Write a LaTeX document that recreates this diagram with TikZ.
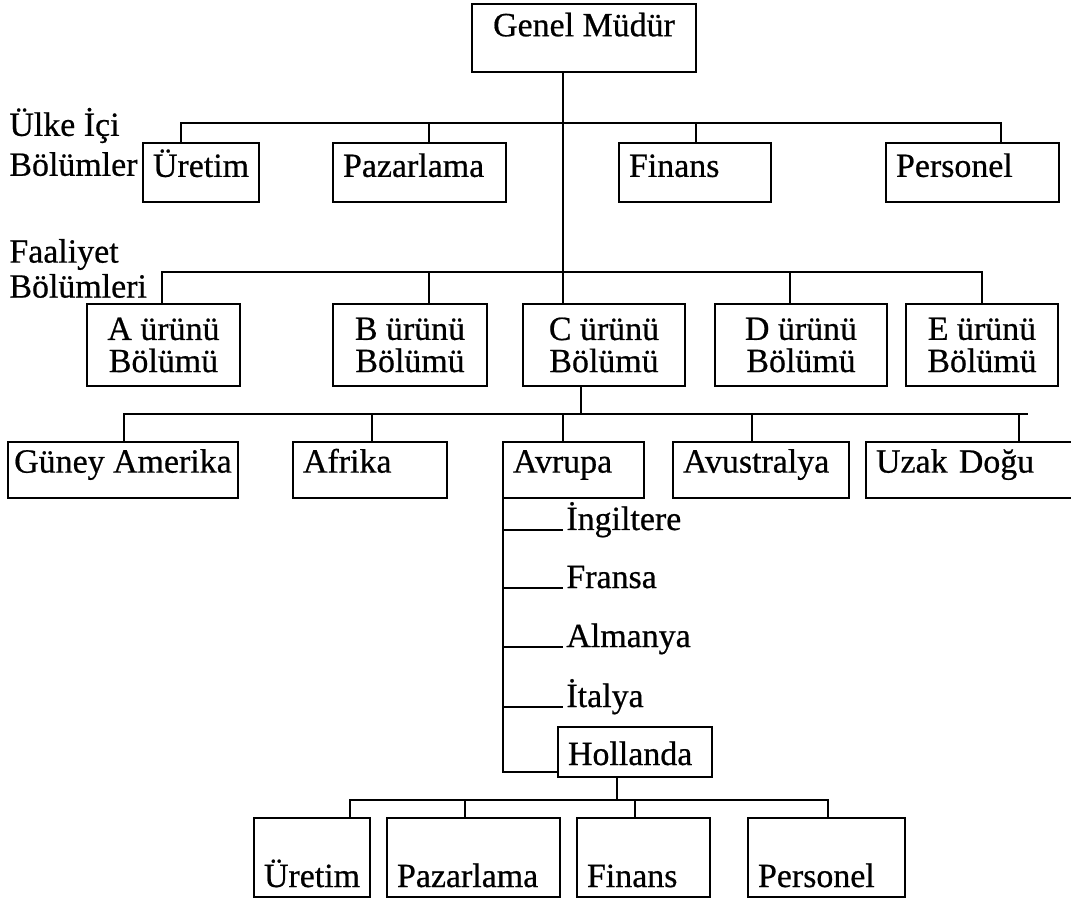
\documentclass[tikz,border=0pt]{standalone}
\usepackage{fontspec}
\setmainfont[FakeBold=0.6]{Liberation Serif}
\usetikzlibrary{calc}
\pgfkeys{tikz/mybox/.style={draw, inner xsep=0.2cm, inner ysep=0.05cm, outer sep=0pt, align=left, text height=14pt, text depth=9pt}}
\pgfkeys{tikz/mytwoline/.style={draw, outer sep=0pt, align=center, font=\fontsize{19.3}{18.3}\selectfont}}
\pgfkeys{tikz/mylabel/.style={anchor=west, align=left, inner sep=0pt}}
\begin{document}
\begin{tikzpicture}[x=0.02cm, y=-0.02cm, line width=1.6pt, font=\fontsize{19.3}{22}\selectfont]
\useasboundingbox (0,0) rectangle (1071,901);
\draw (584,38) node[mybox, minimum width=4.48cm, minimum height=1.36cm, text depth=16pt] (gm) {Genel Müdür};
\draw (8,142) node[mylabel, font=\fontsize{19.3}{22.7}\selectfont] (ulke) {Ülke İçi\\Bölümler};
\draw (201,172.5) node[mybox, text width=1.92cm, minimum height=1.18cm] (ure1) {Üretim};
\draw (419.5,172.5) node[mybox, text width=3.06cm, minimum height=1.18cm] (paz1) {Pazarlama};
\draw (695,172.5) node[mybox, text width=2.64cm, minimum height=1.18cm] (fin1) {Finans};
\draw (972.5,172.5) node[mybox, text width=3.06cm, minimum height=1.18cm] (per1) {Personel};
\draw (8,268.5) node[mylabel, font=\fontsize{19.3}{19.9}\selectfont] (faal) {Faaliyet\\Bölümleri};
\draw (163.5,345) node[mytwoline, minimum width=3.06cm, minimum height=1.64cm] (ura) {A ürünü\\Bölümü};
\draw (410,345) node[mytwoline, minimum width=3.08cm, minimum height=1.64cm] (urb) {B ürünü\\Bölümü};
\draw (604,345) node[mytwoline, minimum width=3.24cm, minimum height=1.64cm] (urc) {C ürünü\\Bölümü};
\draw (801,345) node[mytwoline, minimum width=3.44cm, minimum height=1.64cm] (urd) {D ürünü\\Bölümü};
\draw (982,345) node[mytwoline, minimum width=3.04cm, minimum height=1.64cm] (ure) {E ürünü\\Bölümü};
\draw (123,470) node[mybox, inner xsep=0.08cm, minimum width=4.6cm, minimum height=1.12cm, text depth=11pt] (gam) {Güney Amerika};
\draw (370,470) node[mybox, text width=2.68cm, minimum height=1.12cm, text depth=11pt] (afr) {Afrika};
\draw (573.5,470) node[mybox, text width=2.42cm, minimum height=1.12cm, text depth=11pt] (avr) {Avrupa};
\draw (761,470) node[mybox, text width=3.12cm, minimum height=1.12cm, text depth=11pt] (avs) {Avustralya};
\draw (971,470) node[mybox, text width=3.8cm, minimum height=1.12cm, text depth=11pt] (uzd) {Uzak Doğu};
\draw (565,530) node[anchor=base west, inner sep=0pt] (ing) {İngiltere};
\draw (565,588) node[anchor=base west, inner sep=0pt] (fra) {Fransa};
\draw (565,647) node[anchor=base west, inner sep=0pt] (alm) {Almanya};
\draw (565,707) node[anchor=base west, inner sep=0pt] (ita) {İtalya};
\draw (635,752) node[mybox, text width=2.68cm, minimum height=1cm, text height=18pt, text depth=3.2pt] (hol) {Hollanda};
\draw (312,857.5) node[mybox, text width=1.92cm, minimum height=1.58cm, text height=34pt, text depth=0.4pt] (ure2) {Üretim};
\draw (473.5,857.5) node[mybox, text width=3.06cm, minimum height=1.58cm, text height=34pt, text depth=0.4pt] (paz2) {Pazarlama};
\draw (643.5,857.5) node[mybox, text width=2.26cm, minimum height=1.58cm, text height=34pt, text depth=0.4pt] (fin2) {Finans};
\draw (826.5,857.5) node[mybox, text width=2.74cm, minimum height=1.58cm, text height=34pt, text depth=0.4pt] (per2) {Personel};
% bars
\coordinate (u1) at (181,123); \coordinate (u2) at (429,123);
\coordinate (u3) at (696,123); \coordinate (u4) at (1001,123);
\coordinate (f1) at (162,272); \coordinate (f2) at (429,272); \coordinate (f3) at (563,272);
\coordinate (f4) at (790,272); \coordinate (f5) at (982,272);
\coordinate (rc) at (581,414);
\coordinate (r1) at (124,414); \coordinate (r2) at (372,414); \coordinate (r3) at (563,414);
\coordinate (r4) at (752,414); \coordinate (r5) at (1019,414); \coordinate (rend) at (1028,414);
\coordinate (hc) at (617,800);
\coordinate (h1) at (350,800); \coordinate (h2) at (465,800);
\coordinate (h3) at (635,800); \coordinate (h4) at (828,800);
\draw (gm.south -| f3) -- (f3 |- urc.north);
\draw (ure1.north -| u1) -- (u1) -- (u4) -- (u4 |- per1.north);
\foreach \c/\n in {u2/paz1, u3/fin1} \draw (\c) -- (\c |- \n.north);
\draw (ura.north -| f1) -- (f1) -- (f5) -- (f5 |- ure.north);
\foreach \c/\n in {f2/urb, f4/urd} \draw (\c) -- (\c |- \n.north);
\draw (urc.south -| rc) -- (rc);
\draw (gam.north -| r1) -- (r1) -- (rend);
\foreach \c/\n in {r2/afr, r3/avr, r4/avs, r5/uzd} \draw (\c) -- (\c |- \n.north);
\draw (avr.south west) |- ([yshift=0.1cm]hol.south west);
\foreach \n in {ing, fra, alm, ita} \draw (avr.south west |- \n.base west) -- ([xshift=-1pt]\n.base west);
\draw (hol.south -| hc) -- (hc);
\draw (ure2.north -| h1) -- (h1) -- (h4) -- (h4 |- per2.north);
\foreach \c/\n in {h2/paz2, h3/fin2} \draw (\c) -- (\c |- \n.north);
\end{tikzpicture}
\end{document}
